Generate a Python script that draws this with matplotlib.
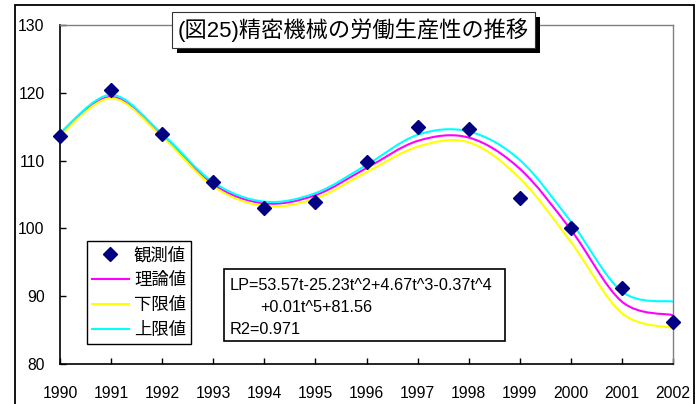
import matplotlib
matplotlib.use('Agg')
import matplotlib.pyplot as plt
from matplotlib.path import Path
from matplotlib.patches import PathPatch, Rectangle
from matplotlib.lines import Line2D

plt.rcParams['font.family'] = ['Liberation Sans', 'Noto Sans CJK JP']

# data
years = [1990, 1991, 1992, 1993, 1994, 1995, 1996, 1997, 1998, 1999, 2000, 2001, 2002]
observed = [113.7, 120.4, 113.9, 106.8, 103.0, 103.9, 109.8, 115.0, 114.6, 104.5, 100.1, 91.2, 86.2]
theory = [113.9, 119.4, 113.7, 106.5, 103.7, 104.9, 108.9, 112.9, 113.4, 108.8, 99.8, 89.2, 87.2]
lower = [113.7, 119.2, 113.5, 106.2, 103.3, 104.4, 108.3, 112.05, 112.7, 107.4, 98.0, 87.5, 85.3]
upper = [114.1, 119.7, 113.95, 106.8, 103.95, 105.2, 109.35, 113.8, 114.3, 110.1, 101.0, 90.7, 89.2]

series_labels = ['観測値', '理論値', '下限値', '上限値']
title = '(図25)精密機械の労働生産性の推移'
equation = ['LP=53.57t-25.23t^2+4.67t^3-0.37t^4', '+0.01t^5+81.56', 'R2=0.971']

W, H = 697, 404


def px(x, y):
    # pixel (top-left origin) -> figure fraction
    return x / W, (H - y) / H


# smoothed line like the spreadsheet's "smooth line" option
def smooth_path(xs, ys):
    verts = [(xs[0], ys[0])]
    codes = [Path.MOVETO]
    n = len(xs)
    for i in range(n - 1):
        a = max(i - 1, 0)
        d = min(i + 2, n - 1)
        c1 = (xs[i] + (xs[i + 1] - xs[a]) / 6, ys[i] + (ys[i + 1] - ys[a]) / 6)
        c2 = (xs[i + 1] - (xs[d] - xs[i]) / 6, ys[i + 1] - (ys[d] - ys[i]) / 6)
        verts += [c1, c2, (xs[i + 1], ys[i + 1])]
        codes += [Path.CURVE4] * 3
    return Path(verts, codes)


fig = plt.figure(figsize=(W / 100, H / 100), dpi=100)
ax = fig.add_axes([60 / W, 40 / H, 613 / W, 339 / H])

line_colors = ['#FF00FF', '#FFFF00', '#00FFFF']
for vals, col in zip([theory, lower, upper], line_colors):
    ax.add_patch(PathPatch(smooth_path(years, vals), facecolor='none', edgecolor=col,
                           lw=1.5, zorder=2, clip_on=False))

ax.plot(years, observed, linestyle='none', marker='D', ms=7, color='#000080', zorder=3, clip_on=False)

ax.set_xlim(1990, 2002)
ax.set_ylim(80, 130)
ax.set_xticks(years)
ax.set_xticklabels([str(y) for y in years])
ax.set_yticks(range(80, 131, 10))
ax.tick_params(axis='x', direction='in', length=4, width=1, pad=16, labelsize=11.3)
ax.tick_params(axis='y', direction='in', length=4, width=1, pad=11, labelsize=11.3)
for s in ['left', 'bottom']:
    ax.spines[s].set_color('black')
    ax.spines[s].set_linewidth(1.2)
for s in ['top', 'right']:
    ax.spines[s].set_color('#808080')
    ax.spines[s].set_linewidth(1.0)

# legend
handles = [Line2D([], [], linestyle='none', marker='D', ms=7, color='#000080')]
handles += [Line2D([], [], color=c, lw=1.5) for c in line_colors]
leg = ax.legend(handles, series_labels, loc='upper left', bbox_to_anchor=px(87, 241),
                bbox_transform=fig.transFigure, prop={'family': ['Noto Sans CJK JP'], 'size': 12.5},
                frameon=True, fancybox=False, edgecolor='black', framealpha=1,
                handlelength=2.1, handletextpad=0.3, labelspacing=0.4, borderpad=0.3,
                borderaxespad=0, numpoints=1)
leg.get_frame().set_linewidth(1.0)
leg.set_zorder(5)

# equation box
x0, y0 = px(224, 341)
fig.patches.append(Rectangle((x0, y0), 281 / W, 72 / H, transform=fig.transFigure,
                             facecolor='white', edgecolor='black', lw=1.2, zorder=5))
fig.text(*px(230, 285), equation[0], fontsize=11.7, va='center', ha='left', zorder=6)
fig.text(*px(260, 307), equation[1], fontsize=11.7, va='center', ha='left', zorder=6)
fig.text(*px(230, 329), equation[2], fontsize=11.7, va='center', ha='left', zorder=6)

# title box with shadow
x0, y0 = px(177, 53)
fig.patches.append(Rectangle((x0, y0), 363 / W, 36 / H, transform=fig.transFigure,
                             facecolor='black', edgecolor='black', lw=0, zorder=5))
x0, y0 = px(172, 48)
fig.patches.append(Rectangle((x0, y0), 363 / W, 36 / H, transform=fig.transFigure,
                             facecolor='white', edgecolor='#333333', lw=0.8, zorder=6))
fig.text(*px(353.5, 30), title, fontsize=16, va='center', ha='center', zorder=7)

# outer chart border
x0, y0 = px(15, 420)
fig.patches.append(Rectangle((x0, y0), 679 / W, 415 / H, transform=fig.transFigure,
                             facecolor='none', edgecolor='black', lw=1.3, zorder=8))

fig.savefig('out.png', dpi=100)
